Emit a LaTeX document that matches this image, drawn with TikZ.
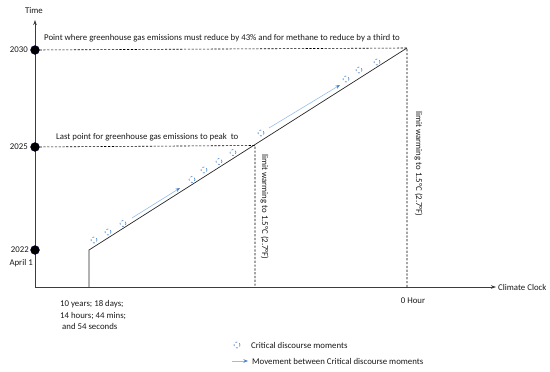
\documentclass[tikz,border=0pt]{standalone}
\usepackage{fontspec}
\setmainfont{Carlito}
\usetikzlibrary{arrows.meta}
\definecolor{cdm}{RGB}{70,130,200}
\definecolor{mv}{RGB}{150,190,235}
\definecolor{axc}{RGB}{60,60,60}
\definecolor{txt}{RGB}{25,25,25}
\begin{document}
\begin{tikzpicture}[x=1pt,y=-1pt, font=\fontsize{8.8}{11.5}\selectfont, text=txt,
 axis/.style={draw=axc, line width=0.8pt},
 axarrow/.style={axis, -{Stealth[length=5pt,width=3.5pt]}},
 guide/.style={draw=black, dash pattern=on 2.2pt off 1.6pt, line width=0.6pt},
 yeardot/.style={circle, fill=black, draw=black!70!blue, line width=0.3pt, inner sep=0pt, minimum size=9pt},
 moment/.style={circle, draw=cdm, dash pattern=on 2pt off 2.2pt, line width=0.6pt, inner sep=0pt, minimum size=6pt},
 move/.style={draw=mv, line width=0.6pt, -{Stealth[length=4.5pt,width=3.5pt,color=cdm]}},
 lbl/.style={inner sep=0pt, anchor=west},
 rlbl/.style={inner sep=0pt, rotate=-90}]
\useasboundingbox (0,0) rectangle (550,372);

% axes
\coordinate (O) at (35,287);
\coordinate (ytop) at (35,20);
\coordinate (xend) at (496,287);
\draw[axarrow] (O) -- (ytop);
\draw[axarrow] (O) -- (xend);
\node[inner sep=0pt] (time) at (34,11) {Time};
\node[lbl] (cc) at (498,287) {Climate Clock};

% year dots
\node[yeardot] (d2030) at (35,50) {};
\node[yeardot] (d2025) at (35,147) {};
\node[yeardot] (d2022) at (35,250) {};
\node[inner sep=0pt, anchor=east] (y2030) at (28,50) {2030};
\node[inner sep=0pt, anchor=east] (y2025) at (28,147) {2025};
\node[inner sep=0pt, anchor=east] (y2022) at (29,250) {2022};
\node[inner sep=0pt, anchor=east] (apr) at (33,263) {April 1};

% step line
\coordinate (base) at (89,287);
\coordinate (corner) at (89,250);
\coordinate (mid) at (255,145.5);
\coordinate (apex) at (407,48);
\coordinate (midb) at (255,287);
\coordinate (apexb) at (407,287);
\draw[axis, line width=0.7pt, draw=black!85] (base) -- (corner) -- (apex);

% guides
\draw[guide] (d2030) -- (apex) -- (apexb);
\draw[guide] (d2025) -- (mid) -- (midb);

% labels
\node[lbl] (t1) at (44,38.5) {Point where greenhouse gas emissions must reduce by 43\% and for methane to reduce by a third to};
\node[lbl] (t2) at (56,137) {Last point for greenhouse gas emissions to peak\ \ to};
\node[rlbl] (r1) at (264.5,207) {limit warming to 1.5°C (2.7°F)};
\node[rlbl] (r2) at (418.5,164) {limit warming to 1.5°C (2.7°F)};
\node[inner sep=0pt] (zero) at (413,301) {0 Hour};
\node[inner sep=0pt, anchor=north west, align=left] (dur) at (60,300.5) {10 years; 18 days;\\14 hours; 44 mins;\\\ and 54 seconds};

% critical discourse moments
\foreach \i/\p in {1/{(94,240)},2/{(108,232)},3/{(123,223.5)},4/{(192,179.5)},5/{(204,170)},6/{(219,161.5)},7/{(233,152.5)},8/{(261,133)},9/{(346,79)},10/{(359,70)},11/{(377,62)}}
  \node[moment] (m\i) at \p {};

% movements
\coordinate (a1s) at (132,218);
\coordinate (a1e) at (180,188);
\coordinate (a2s) at (269,128);
\coordinate (a2e) at (340,85);
\draw[move] (a1s) -- (a1e);
\draw[move] (a2s) -- (a2e);

% legend
\node[moment] (lm) at (237,345) {};
\node[lbl] (lmt) at (251,345) {Critical discourse moments};
\coordinate (las) at (232,361);
\coordinate (lae) at (248,361);
\draw[move] (las) -- (lae);
\node[lbl] (lat) at (252,361) {Movement between Critical discourse moments};
\end{tikzpicture}
\end{document}
